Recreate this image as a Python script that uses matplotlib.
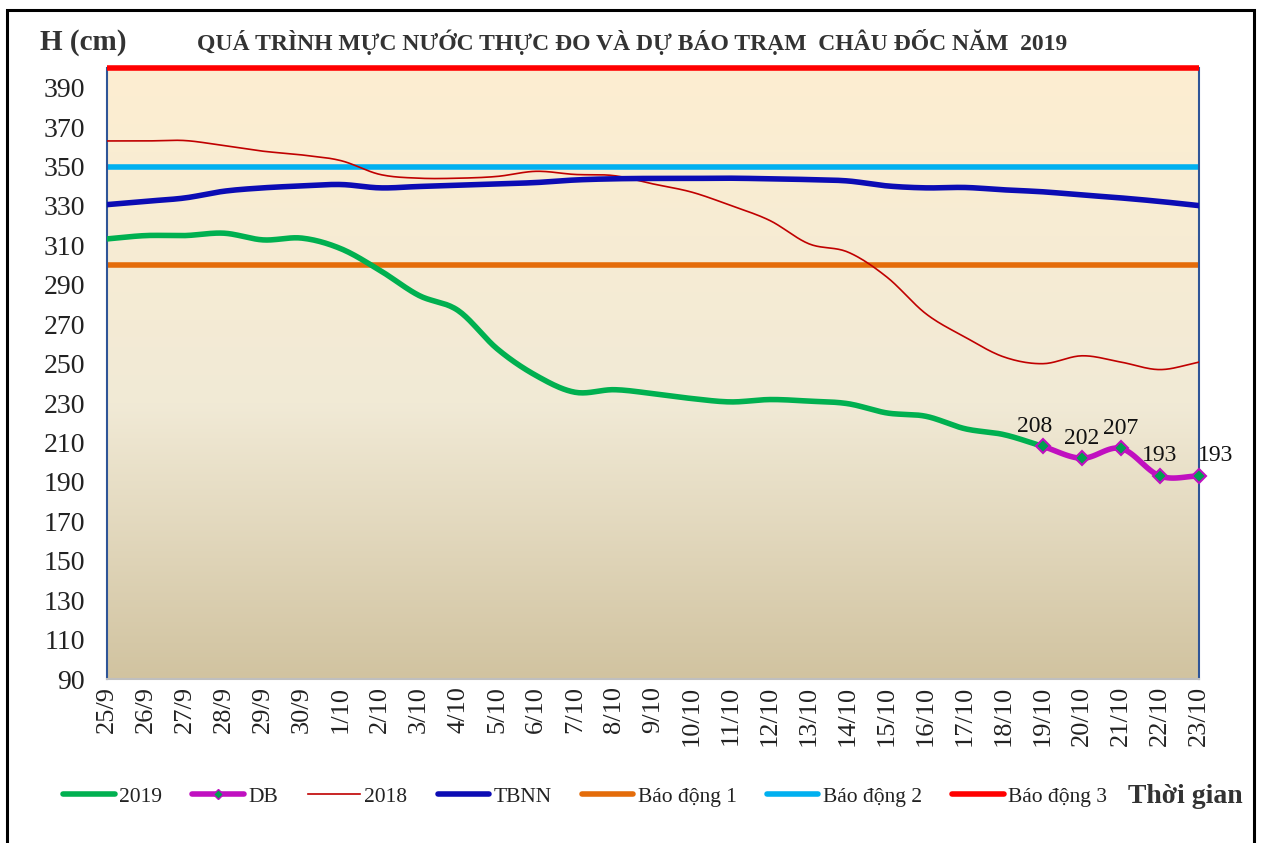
import numpy as np
import matplotlib
matplotlib.use('Agg')
import matplotlib.pyplot as plt
from matplotlib.lines import Line2D
from matplotlib.patches import Rectangle
from matplotlib.colors import LinearSegmentedColormap

# Ngay quan trac / du bao
dates = ['25/9', '26/9', '27/9', '28/9', '29/9', '30/9', '1/10', '2/10', '3/10',
         '4/10', '5/10', '6/10', '7/10', '8/10', '9/10', '10/10', '11/10', '12/10',
         '13/10', '14/10', '15/10', '16/10', '17/10', '18/10', '19/10', '20/10',
         '21/10', '22/10', '23/10']

# Muc nuoc thuc do 2019 (25/9 -> 19/10)
h2019 = [313.3, 315, 315, 316.2, 312.8, 313.7, 308.3, 297.3, 284.6, 277, 257.6,
         244, 235.5, 236.8, 234.8, 232.3, 230.6, 231.8, 231, 229.7, 225, 223.3,
         217, 214, 208]

# Du bao (19/10 -> 23/10)
db = [208, 202, 207, 193, 193]

# Cung ky 2018
h2018 = [363, 363, 363.2, 360.6, 357.8, 355.9, 353, 346, 344.1, 344.1, 345, 347.6,
         346, 345.4, 341.2, 337, 330.2, 322.6, 310.8, 306.6, 293.9, 275.3, 263.5,
         253.4, 250, 254, 250.8, 247, 250.8]

# Trung binh nhieu nam
tbnn = [330.7, 332.4, 334.1, 337.5, 339.2, 340.2, 340.9, 339.2, 339.9, 340.5, 341.2,
        341.9, 343.2, 343.8, 344, 344, 344.1, 343.8, 343.4, 342.7, 340.2, 339.2,
        339.4, 338.2, 337.2, 335.6, 334.1, 332.3, 330.2]

# Cap bao dong
bd1, bd2, bd3 = 300, 350, 400

yticks = list(range(90, 400, 20))

plt.rcParams['font.family'] = ['Liberation Serif', 'DejaVu Serif']


def smooth(x, y, n=20):
    # Catmull-Rom curve through the points, like Excel's "smoothed line"
    x = np.asarray(x, float)
    y = np.asarray(y, float)
    px = np.concatenate([[2 * x[0] - x[1]], x, [2 * x[-1] - x[-2]]])
    py = np.concatenate([[2 * y[0] - y[1]], y, [2 * y[-1] - y[-2]]])
    t = np.linspace(0, 1, n, endpoint=False)
    xs, ys = [], []
    for i in range(1, len(px) - 2):
        for p, out in ((px, xs), (py, ys)):
            p0, p1, p2, p3 = p[i - 1], p[i], p[i + 1], p[i + 2]
            out.extend(0.5 * (2 * p1 + (-p0 + p2) * t
                              + (2 * p0 - 5 * p1 + 4 * p2 - p3) * t ** 2
                              + (-p0 + 3 * p1 - 3 * p2 + p3) * t ** 3))
    xs.append(x[-1])
    ys.append(y[-1])
    return np.array(xs), np.array(ys)


fig = plt.figure(figsize=(12.61, 8.43), dpi=100)
ax = fig.add_axes([0.0849, 0.1945, 0.8659, 0.7248])

x = np.arange(len(dates))
ax.set_xlim(0, len(dates) - 1)
ax.set_ylim(90, 400)

# gradient background, light at the top
cmap = LinearSegmentedColormap.from_list(
    'bg', [(0, '#FDEED1'), (0.55, '#F1EAD6'), (1, '#D1C3A0')])
grad = np.linspace(0, 1, 256).reshape(-1, 1)
ax.imshow(grad, cmap=cmap, aspect='auto', origin='upper',
          extent=(0, len(dates) - 1, 90, 400), zorder=0)

# alarm levels
ax.axhline(bd1, color='#E46C0A', lw=4, zorder=2)
ax.axhline(bd2, color='#00B0F0', lw=4, zorder=2)
ax.axhline(bd3, color='#FF0000', lw=4, zorder=6, clip_on=False,
           solid_capstyle='butt')

sx, sy = smooth(x, h2018)
ax.plot(sx, sy, color='#C00000', lw=1.2, zorder=3)
sx, sy = smooth(x, tbnn)
ax.plot(sx, sy, color='#0C0CB4', lw=4, zorder=3)
sx, sy = smooth(x[:len(h2019)], h2019)
ax.plot(sx, sy, color='#00B050', lw=4, zorder=4)

xdb = x[len(h2019) - 1:]
sx, sy = smooth(xdb, db)
ax.plot(sx, sy, color='#C010C0', lw=4, zorder=5, clip_on=False)
ax.plot(xdb, db, ls='none', marker='D', ms=7, mfc='#00A050', mec='#C010C0',
        mew=1.5, zorder=6, clip_on=False)
for i, (xi, v) in enumerate(zip(xdb, db)):
    dx = 12 if i == len(db) - 1 else (-6 if i == 0 else 0)
    ax.annotate(str(v), (xi, v), xytext=(dx, 7), textcoords='offset points',
                ha='center', va='bottom', fontsize=17, color='#111111')

ax.set_xticks(x)
ax.set_xticklabels(dates, rotation=90, fontsize=19, color='#222222')
ax.set_yticks(yticks)
ax.set_yticklabels([str(v) for v in yticks], fontsize=20, color='#222222')
ax.tick_params(length=0)
ax.tick_params(axis='y', pad=16)
ax.tick_params(axis='x', pad=5)

for s in ('left', 'right'):
    ax.spines[s].set_color('#2F5597')
    ax.spines[s].set_linewidth(1.5)
ax.spines['bottom'].set_color('#BFBFBF')
ax.spines['bottom'].set_linewidth(1.5)
ax.spines['top'].set_visible(False)

fig.text(0.032, 0.95, 'H (cm)', fontsize=21, fontweight='bold',
         color='#333333', va='center', ha='left')
fig.text(0.501, 0.95,
         'QUÁ TRÌNH MỰC NƯỚC THỰC ĐO VÀ DỰ BÁO TRẠM  CHÂU ĐỐC NĂM  2019',
         fontsize=17, fontweight='bold', color='#333333', va='center', ha='center')
fig.text(0.94, 0.0546, 'Thời gian', fontsize=20, fontweight='bold',
         color='#333333', va='center', ha='center')

handles = [
    Line2D([], [], color='#00B050', lw=4, solid_capstyle='round'),
    Line2D([], [], color='#C010C0', lw=4, marker='D', ms=5, mfc='#00A050',
           mec='#C010C0', solid_capstyle='round'),
    Line2D([], [], color='#C00000', lw=1.2),
    Line2D([], [], color='#0C0CB4', lw=4, solid_capstyle='round'),
    Line2D([], [], color='#E46C0A', lw=4, solid_capstyle='round'),
    Line2D([], [], color='#00B0F0', lw=4, solid_capstyle='round'),
    Line2D([], [], color='#FF0000', lw=4, solid_capstyle='round'),
]
labels = ['2019', 'DB', '2018', 'TBNN', 'Báo động 1', 'Báo động 2', 'Báo động 3']
leg = fig.legend(handles, labels, ncol=7, loc='center',
                 bbox_to_anchor=(0.464, 0.0546), frameon=False, fontsize=15.5,
                 handlelength=2.4, handletextpad=0.2, columnspacing=1.4)
for t in leg.get_texts():
    t.set_color('#222222')

# outer frame
fig.patches.append(Rectangle((0.0055, -0.02), 0.989, 1.008, transform=fig.transFigure,
                             fill=False, ec='black', lw=2.2))

fig.savefig('out.png', dpi=100)
